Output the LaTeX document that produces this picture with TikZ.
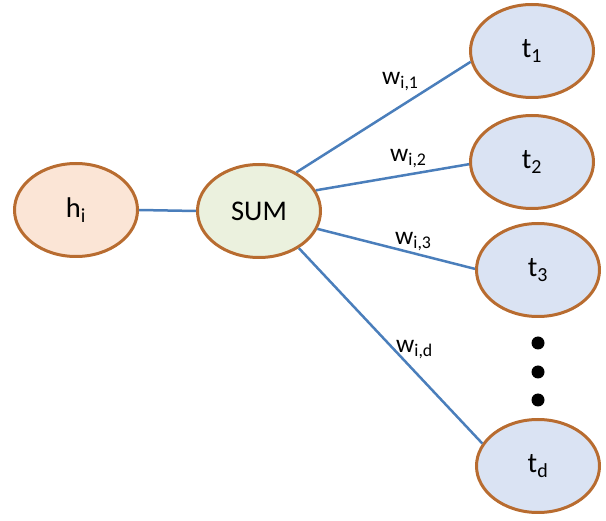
\documentclass[tikz,border=0pt]{standalone}
\usepackage{fontspec}
\setmainfont{Carlito}
\usetikzlibrary{shapes.geometric}
\definecolor{bordc}{RGB}{184,108,48}
\definecolor{edgec}{RGB}{74,126,187}
\definecolor{hfill}{RGB}{251,229,214}
\definecolor{sumfill}{RGB}{235,241,222}
\definecolor{tfill}{RGB}{218,227,243}
\newcommand{\sbx}[1]{\textsubscript{#1}}
\tikzset{
  ell/.style={ellipse, draw=bordc, line width=3pt, minimum width=123pt, minimum height=93pt, inner sep=0pt, font=\fontsize{28.5}{31}\selectfont},
  conn/.style={draw=edgec, line width=2.5pt},
  wlab/.style={anchor=base west, inner sep=0pt, font=\fontsize{25.5}{28}\selectfont},
  dotc/.style={circle, fill=black, minimum size=13pt, inner sep=0pt}
}
\begin{document}
\begin{tikzpicture}[x=1pt,y=-1pt]
\useasboundingbox (0,0) rectangle (606,521);
\node[ell, fill=hfill] (h) at (76,210) {h\sbx{i}};
\node[ell, fill=sumfill] (sum) at (259,211) {SUM};
\node[ell, fill=tfill] (t1) at (532,51) {t\sbx{1}};
\node[ell, fill=tfill] (t2) at (532,162) {t\sbx{2}};
\node[ell, fill=tfill] (t3) at (538,270) {t\sbx{3}};
\node[ell, fill=tfill] (td) at (538,466) {t\sbx{d}};
\node[dotc] (d1) at (538,343) {};
\node[dotc] (d2) at (538,372) {};
\node[dotc] (d3) at (538,400) {};
\draw[conn] (h.east) -- (sum.west);
\draw[conn] (sum.46) -- (t1.190);
\draw[conn] (sum.20) -- (t2.182);
\draw[conn] (sum.-17) -- (t3.179);
\draw[conn] (sum.-43) -- (td.158);
\node[wlab] (w1) at (382,85) {w\sbx{i,1}};
\node[wlab] (w2) at (390,162) {w\sbx{i,2}};
\node[wlab] (w3) at (395,245) {w\sbx{i,3}};
\node[wlab] (wd) at (396,353) {w\sbx{i,d}};
\end{tikzpicture}
\end{document}
